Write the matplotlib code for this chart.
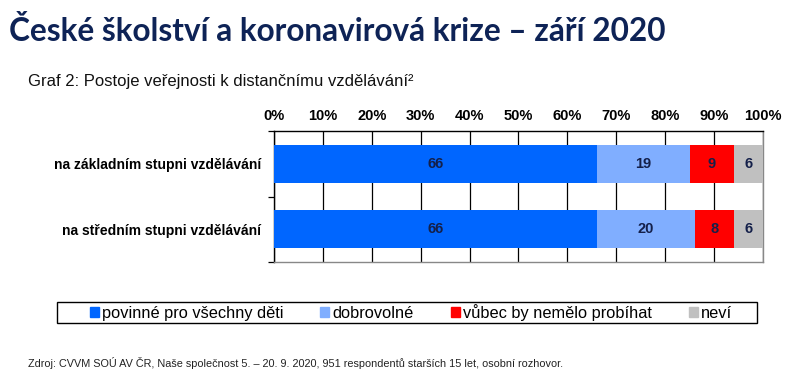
import matplotlib
matplotlib.use("Agg")
import matplotlib.pyplot as plt
import numpy as np

categories = ["na základním stupni vzdělávání", "na středním stupni vzdělávání"]
series_names = ["povinné pro všechny děti", "dobrovolné", "vůbec by nemělo probíhat", "neví"]
povinne = [66, 66]
dobrovolne = [19, 20]
vubec = [9, 8]
nevi = [6, 6]
colors = ["#0066FF", "#80AEFF", "#FF0000", "#C0C0C0"]
xticks = [0, 10, 20, 30, 40, 50, 60, 70, 80, 90, 100]

plt.rcParams['font.family'] = ['Liberation Sans', 'DejaVu Sans']

fig = plt.figure(figsize=(7.87, 3.86), dpi=100)
fig.patch.set_facecolor("white")

fig.text(0.012, 0.893, "České školství a koronavirová krize – září 2020",
         fontsize=22.7, fontweight="bold", color="#0E2356", family=["Lato", "DejaVu Sans"])
fig.text(0.036, 0.776, "Graf 2: Postoje veřejnosti k distančnímu vzdělávání²",
         fontsize=12, color="#111111")

ax = fig.add_axes([0.348, 0.321, 0.6215, 0.3395])
y = np.arange(len(categories))
left = np.zeros(len(categories))
for vals, col in zip([povinne, dobrovolne, vubec, nevi], colors):
    vals = np.array(vals)
    ax.barh(y, vals, left=left, height=0.58, color=col, zorder=3)
    for yi, l, v in zip(y, left, vals):
        ax.text(l + v / 2, yi, str(v), ha="center", va="center",
                fontsize=10.5, fontweight="bold", color="#14204A", zorder=4)
    left = left + vals

ax.set_xlim(0, 100)
ax.set_ylim(1.5, -0.5)
ax.set_xticks(xticks)
ax.set_xticklabels([f"{t}%" for t in xticks], fontsize=10.5, fontweight="bold")
ax.xaxis.tick_top()
ax.tick_params(axis="x", length=0, pad=6)
ax.grid(axis="x", color="black", linewidth=0.9, zorder=0)
ax.set_yticks(y)
ax.set_yticklabels(categories, fontsize=10, fontweight="bold")
ax.tick_params(axis="y", which="major", length=0, pad=9)
ax.set_yticks([-0.5, 0.5, 1.5], minor=True)
ax.tick_params(axis="y", which="minor", length=4, width=0.9)
for s in ["top", "left"]:
    ax.spines[s].set_color("black")
    ax.spines[s].set_linewidth(1.0)
for s in ["right", "bottom"]:
    ax.spines[s].set_color("#888888")
    ax.spines[s].set_linewidth(1.0)

# legend frame drawn separately (wide box, tight vertically)
fig.patches.append(plt.Rectangle((0.0724, 0.1632), 0.8895, 0.0544, transform=fig.transFigure,
                                 fill=False, edgecolor="black", linewidth=1.0))
handles = [plt.Rectangle((0, 0), 1, 1, color=c) for c in colors]
leg = fig.legend(handles, series_names, loc="center", bbox_to_anchor=(0.522, 0.190),
                 ncol=4, frameon=False,
                 handlelength=0.55, handleheight=0.55, handletextpad=0.2,
                 columnspacing=2.25, borderpad=0.0,
                 prop={"size": 11.8})

fig.text(0.036, 0.05, "Zdroj: CVVM SOÚ AV ČR, Naše společnost 5. – 20. 9. 2020, 951 respondentů starších 15 let, osobní rozhovor.",
         fontsize=7.8, color="#222222")

fig.savefig("out.png", dpi=100)
